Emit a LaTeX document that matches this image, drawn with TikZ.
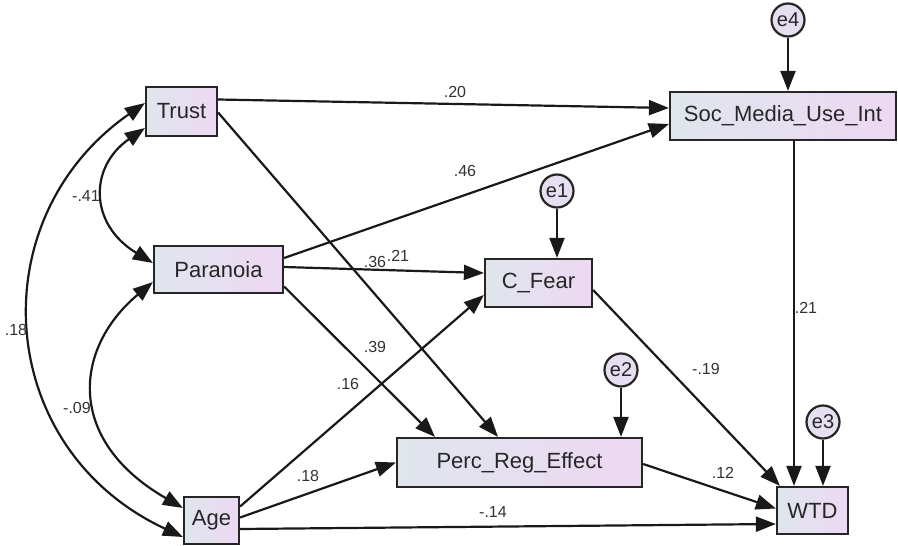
\documentclass[tikz,border=0pt]{standalone}
\usepackage{fontspec}
\setmainfont{Liberation Sans}
\usetikzlibrary{arrows.meta,calc}
\definecolor{boxL}{HTML}{DFE6EC}
\definecolor{boxR}{HTML}{EDD8F3}
\definecolor{errF}{HTML}{E6DEF1}
\begin{document}
\begin{tikzpicture}[x=1pt,y=-1pt,
 var/.style={draw=black!85, line width=2.2pt, left color=boxL, right color=boxR, inner sep=0pt, font=\fontsize{22}{25}\selectfont, text=black!85},
 err/.style={circle, draw=black!85, line width=2.2pt, fill=errF, minimum size=33pt, inner sep=0pt, font=\fontsize{20}{22}\selectfont, text=black!85},
 arr/.style={line width=2.2pt, draw=black!90, -{Triangle[length=20pt,width=15pt]}},
 cov/.style={line width=2.2pt, draw=black!90, {Triangle[length=20pt,width=15pt]}-{Triangle[length=20pt,width=15pt]}},
 lab/.style={font=\fontsize{16}{18}\selectfont, text=black!80, inner sep=0pt}]
\useasboundingbox[fill=white] (0,0) rectangle (898,546);

% variables
\node[var, minimum width=71pt, minimum height=49pt] (Trust) at (181.5,111.5) {Trust};
\node[var, minimum width=129pt, minimum height=47pt] (Paranoia) at (218.5,269.5) {Paranoia};
\node[var, minimum width=226pt, minimum height=48pt] (Soc) at (783,116) {Soc\_Media\_Use\_Int};
\node[var, minimum width=107pt, minimum height=48pt] (CFear) at (538.5,283) {C\_Fear};
\node[var, minimum width=245pt, minimum height=49pt] (Perc) at (519.5,462.5) {Perc\_Reg\_Effect};
\node[var, minimum width=71pt, minimum height=47pt] (WTD) at (812.5,510.5) {WTD};
\node[var, minimum width=55pt, minimum height=47pt] (Age) at (211.5,520.5) {Age};

% errors
\node[err] (e4) at (788,20) {e4};
\node[err] (e1) at (557,191) {e1};
\node[err] (e2) at (621,370) {e2};
\node[err] (e3) at (823,422) {e3};

% error arrows
\draw[arr] (e4.south) -- (e4 |- Soc.north);
\draw[arr] (e1.south) -- (e1 |- CFear.north);
\draw[arr] (e2.south) -- (e2 |- Perc.north);
\draw[arr] (e3.south) -- (e3 |- WTD.north);

% paths
\draw[arr] ($(Trust.east)+(0,-12)$) -- ($(Soc.west)+(0,-8)$);
\draw[arr] ($(Trust.east)+(0,1)$) -- ($(Perc.north)+(-21.5,0)$);
\draw[arr] ($(Paranoia.east)+(0,-11.5)$) -- ($(Soc.west)+(0,8)$);
\draw[arr] ($(Paranoia.east)+(0,-2.5)$) -- ($(CFear.west)+(0,-10)$);
\draw[arr] ($(Paranoia.east)+(0,17)$) -- ($(Perc.north)+(-84.5,0)$);
\draw[arr] ($(Age.east)+(0,-14)$) -- ($(CFear.west)+(0,12)$);
\draw[arr] ($(Age.east)+(0,-3)$) -- (Perc.west);
\draw[arr] ($(Age.east)+(0,8.5)$) -- ($(WTD.west)+(0,13.5)$);
\draw[arr] ($(CFear.east)+(0,7)$) -- ($(WTD.north west)+(4,0)$);
\draw[arr] ($(Perc.east)+(0,1.5)$) -- ($(WTD.west)+(0,-2)$);
\draw[arr] ($(Soc.south)+(11,0)$) -- ($(WTD.north)+(-18.5,0)$);

% covariances
\draw[cov] ($(Trust.west)+(0,16.5)$) .. controls +(-56,39) and +(-64,-39) .. ($(Paranoia.west)+(0,-6.5)$);
\draw[cov] ($(Trust.west)+(0,-8.5)$) .. controls +(-166,116) and +(-189,-88) .. ($(Age.west)+(0,16.5)$);
\draw[cov] ($(Paranoia.west)+(0,12.5)$) .. controls +(-79,66) and +(-118,-68) .. ($(Age.west)+(0,-12.5)$);

% labels
\node[lab] (l1) at (455,92) {.20};
\node[lab] (l2) at (465,171) {.46};
\node[lab] (l3) at (86,196) {-.41};
\node[lab] (l4) at (375,262) {.36};
\node[lab] (l5) at (398,256) {.21};
\node[lab] (l6) at (375,347) {.39};
\node[lab] (l7) at (348,384) {.16};
\node[lab] (l8) at (308,476) {.18};
\node[lab] (l9) at (16,330) {.18};
\node[lab] (l10) at (77,408) {-.09};
\node[lab] (l11) at (493,512) {-.14};
\node[lab] (l12) at (706,369) {-.19};
\node[lab] (l13) at (723,473) {.12};
\node[lab] (l14) at (806,308) {.21};
\end{tikzpicture}
\end{document}
